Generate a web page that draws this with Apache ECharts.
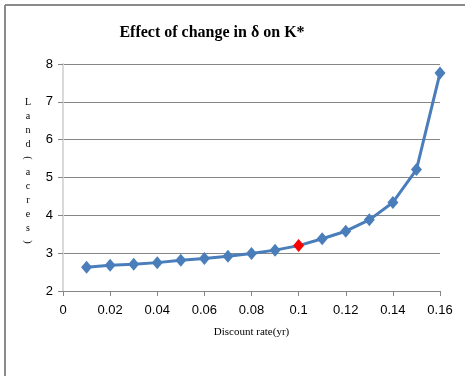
<!DOCTYPE html>
<html><head><meta charset="utf-8">
<script src="https://cdn.jsdelivr.net/npm/echarts@6/dist/echarts.min.js"></script>
<style>html,body{margin:0;padding:0;background:#fff}#c{width:465px;height:376px}</style>
</head><body><div id="c"></div>
<script>
const discountRates = [0.01,0.02,0.03,0.04,0.05,0.06,0.07,0.08,0.09,0.10,0.11,0.12,0.13,0.14,0.15,0.16];
const landAcres = [2.63,2.68,2.71,2.75,2.81,2.86,2.92,2.99,3.08,3.20,3.38,3.58,3.88,4.34,5.21,7.76];
const highlightRate = 0.10;
const yLabelChars = ['L','a','n','d','(','a','c','r','e','s',')'];

const chart = echarts.init(document.getElementById('c'));
const pts = discountRates.map((x,i)=>({
  value:[x, landAcres[i]],
  itemStyle: x===highlightRate ? {color:'#ff0000'} : undefined
}));
const yLabelGraphics = yLabelChars.map((ch,i)=>{
  const isParen = ch==='('||ch===')';
  return {
    type:'text', x:28, y:102 + i*14, rotation: isParen ? -Math.PI/2 : 0,
    style:{text:ch, font:'10px "Liberation Serif", serif', fill:'#000', align:'center', verticalAlign:'middle'}
  };
});
chart.setOption({
  animation:false,
  title:{text:'Effect of change in δ on K*', left:207, top:20, textAlign:'center',
    textStyle:{fontFamily:'"Liberation Serif", serif', fontWeight:'bold', fontSize:16, color:'#000'}},
  grid:{left:63, right:25, top:64, bottom:85},
  xAxis:{type:'value', min:0, max:0.16, interval:0.02,
    name:'Discount rate(yr)', nameLocation:'middle', nameGap:36,
    nameTextStyle:{fontFamily:'"Liberation Serif", serif', fontSize:11, color:'#000'},
    axisLine:{show:true, onZero:false, lineStyle:{color:'#868686', width:1}},
    axisTick:{show:true, length:5, lineStyle:{color:'#868686'}},
    axisLabel:{color:'#000', fontFamily:'"Liberation Sans Narrow","Liberation Sans", sans-serif', fontSize:13, margin:13,
      formatter:v=>String(+v.toFixed(2))},
    splitLine:{show:false}},
  yAxis:{type:'value', min:2, max:8, interval:1,
    axisLine:{show:true, lineStyle:{color:'#d9d9d9', width:2}},
    axisTick:{show:true, length:5, lineStyle:{color:'#868686'}},
    axisLabel:{color:'#000', fontFamily:'"Liberation Sans Narrow","Liberation Sans", sans-serif', fontSize:13, margin:10},
    splitLine:{show:true, lineStyle:{color:'#868686', width:1}}},
  graphic:[
    {type:'line', shape:{x1:5,y1:5,x2:465,y2:5}, style:{stroke:'#8a8a8a', lineWidth:2}},
    {type:'line', shape:{x1:5,y1:5,x2:5,y2:376}, style:{stroke:'#8a8a8a', lineWidth:2}}
  ].concat(yLabelGraphics),
  series:[{type:'line', data:pts, symbol:'diamond', symbolSize:[11,13],
    lineStyle:{color:'#4a7ebb', width:3}, itemStyle:{color:'#4a7ebb'}}]
});
</script></body></html>
